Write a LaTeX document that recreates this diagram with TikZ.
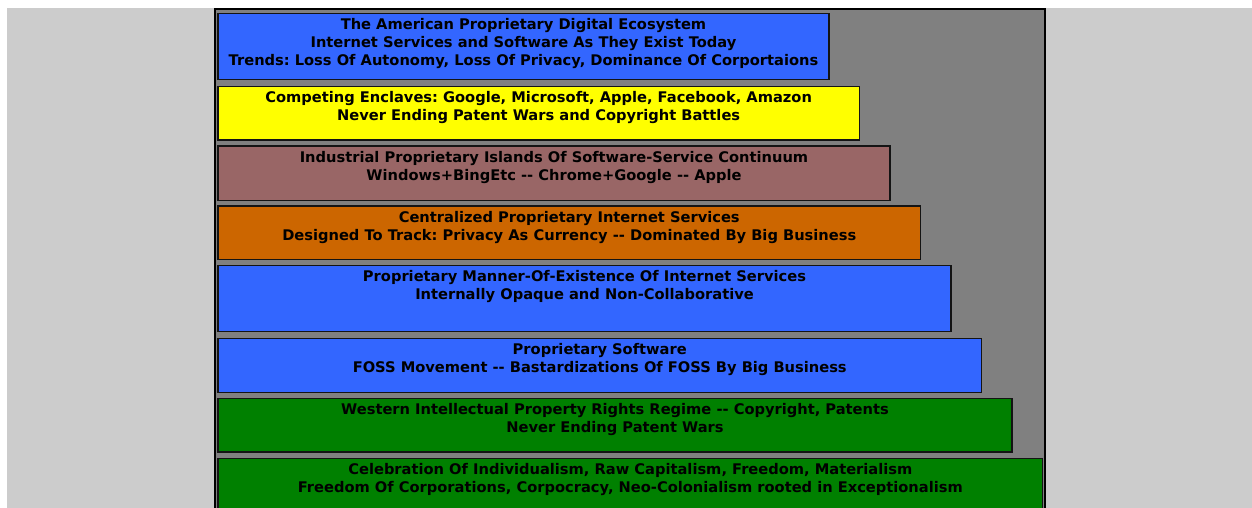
\documentclass[tikz,border=0pt]{standalone}
\usepackage{fontspec}
\newfontfamily\boxfont{DejaVu Sans}[Ligatures=TeXOff]
\frenchspacing
\definecolor{bgray}{HTML}{CCCCCC}
\definecolor{pgray}{HTML}{808080}
\definecolor{cblue}{HTML}{3366FF}
\definecolor{cyellow}{HTML}{FFFF00}
\definecolor{cbrown}{HTML}{996666}
\definecolor{corange}{HTML}{CC6600}
\definecolor{cgreen}{HTML}{008000}
\definecolor{edge}{HTML}{141414}
\tikzset{
  layer/.style={draw=edge, line width=1.1pt, outer sep=0pt, inner sep=0pt, anchor=north west, minimum width=#1},
  txt/.style={anchor=base, inner sep=0pt, font=\boxfont\bfseries\fontsize{14.65}{18}\selectfont\frenchspacing, text=black},
}
\begin{document}
\begin{tikzpicture}[x=1pt,y=1pt]
\useasboundingbox (0,0) rectangle (1252,-508);
\fill[white] (0,0) rectangle (1252,-508);
\fill[bgray] (7,-8) rectangle (1252,-508);
\begin{scope}
\clip (0,0) rectangle (1252,-508);
\node[draw=black, line width=2pt, fill=pgray, outer sep=0pt, inner sep=0pt, anchor=north west, minimum width=830pt, minimum height=520pt] (panel) at (215,-9) {};
\node[layer=611pt, minimum height=66pt, fill=cblue] (b1) at (218,-13.3) {};
\node[layer=641.3pt, minimum height=53.3pt, fill=cyellow] (b2) at (218,-86.7) {};
\node[layer=672pt, minimum height=54.5pt, fill=cbrown] (b3) at (218,-146) {};
\node[layer=702.5pt, minimum height=53.5pt, fill=corange] (b4) at (218,-206) {};
\node[layer=733pt, minimum height=66pt, fill=cblue] (b5) at (218,-265.3) {};
\node[layer=763.5pt, minimum height=54pt, fill=cblue] (b6) at (218,-338.7) {};
\node[layer=794pt, minimum height=53.3pt, fill=cgreen] (b7) at (218,-398.7) {};
\node[layer=824.7pt, minimum height=60pt, fill=cgreen] (b8) at (218,-458.3) {};
\end{scope}
\node[txt] (t1a) at ([yshift=-16pt]b1.north) {The American Proprietary Digital Ecosystem};
\node[txt] (t1b) at ([yshift=-34pt]b1.north) {Internet Services and Software As They Exist Today};
\node[txt] (t1c) at ([yshift=-52pt]b1.north) {Trends: Loss Of Autonomy, Loss Of Privacy, Dominance Of Corportaions};
\node[txt] (t2a) at ([yshift=-16pt]b2.north) {Competing Enclaves: Google, Microsoft, Apple, Facebook, Amazon};
\node[txt] (t2b) at ([yshift=-34pt]b2.north) {Never Ending Patent Wars and Copyright Battles};
\node[txt] (t3a) at ([yshift=-16pt]b3.north) {Industrial Proprietary Islands Of Software-Service Continuum};
\node[txt] (t3b) at ([yshift=-34pt]b3.north) {Windows+BingEtc -- Chrome+Google -- Apple};
\node[txt] (t4a) at ([yshift=-16pt]b4.north) {Centralized Proprietary Internet Services};
\node[txt] (t4b) at ([yshift=-34pt]b4.north) {Designed To Track: Privacy As Currency -- Dominated By Big Business};
\node[txt] (t5a) at ([yshift=-16pt]b5.north) {Proprietary Manner-Of-Existence Of Internet Services};
\node[txt] (t5b) at ([yshift=-34pt]b5.north) {Internally Opaque and Non-Collaborative};
\node[txt] (t6a) at ([yshift=-16pt]b6.north) {Proprietary Software};
\node[txt] (t6b) at ([yshift=-34pt]b6.north) {FOSS Movement -- Bastardizations Of FOSS By Big Business};
\node[txt] (t7a) at ([yshift=-16pt]b7.north) {Western Intellectual Property Rights Regime -- Copyright, Patents};
\node[txt] (t7b) at ([yshift=-34pt]b7.north) {Never Ending Patent Wars};
\node[txt] (t8a) at ([yshift=-16pt]b8.north) {Celebration Of Individualism, Raw Capitalism, Freedom, Materialism};
\node[txt] (t8b) at ([yshift=-34pt]b8.north) {Freedom Of Corporations, Corpocracy, Neo-Colonialism rooted in Exceptionalism};
\end{tikzpicture}
\end{document}
